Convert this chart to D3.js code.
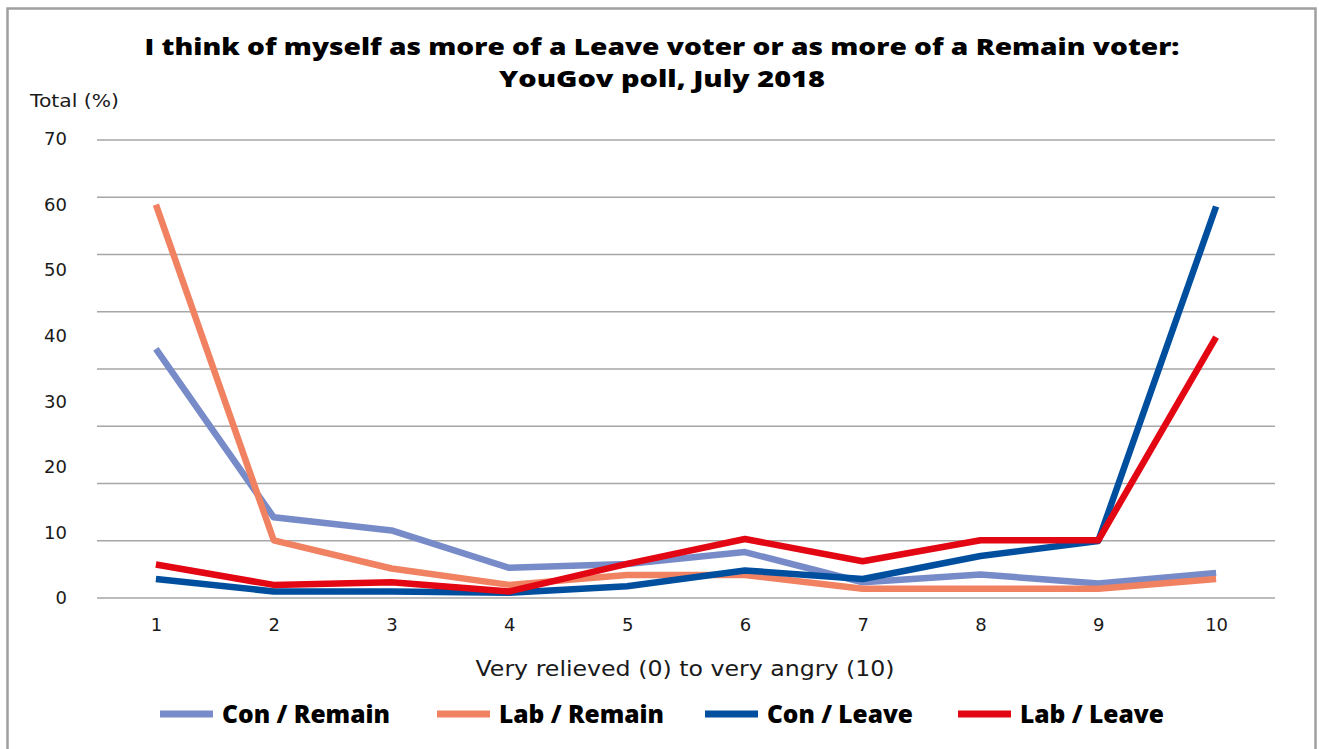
<!DOCTYPE html>
<html>
<head>
<meta charset="utf-8">
<script src="https://cdn.jsdelivr.net/npm/d3@7"></script>
<style>
  html, body { margin: 0; padding: 0; background: #fff; }
  svg { display: block; }
</style>
</head>
<body>
<svg id="chart" width="1319" height="749"></svg>
<script>
// Scale points 1..10 on the relieved/angry axis
const categories = [1, 2, 3, 4, 5, 6, 7, 8, 9, 10];

// Share of each group (%) at each point of the scale
const conRemain = [38, 12.3, 10.3, 4.6, 5.2, 7, 2.4, 3.6, 2.2, 3.8];
const labRemain = [60, 8.8, 4.5, 2, 3.5, 3.5, 1.4, 1.4, 1.4, 2.9];
const conLeave  = [2.9, 1, 1, 0.8, 1.8, 4.2, 2.9, 6.4, 8.7, 59.7];
const labLeave  = [5.1, 2, 2.4, 1, 5.2, 9, 5.6, 8.8, 8.8, 39.8];

const seriesNames  = ["Con / Remain", "Lab / Remain", "Con / Leave", "Lab / Leave"];
const seriesValues = [conRemain, labRemain, conLeave, labLeave];
const seriesColors = ["#778bc8", "#f08262", "#004f9f", "#e30613"];

const yTicks = [0, 10, 20, 30, 40, 50, 60, 70];
const gridSteps = 8;

const titleLines = [
  "I think of myself as more of a Leave voter or as more of a Remain voter:",
  "YouGov poll, July 2018"
];
const yAxisTitle = "Total (%)";
const xAxisTitle = "Very relieved (0) to very angry (10)";

const svg = d3.select("#chart");
const W = 1319, H = 749;
const plot = { left: 97, right: 1275, top: 140, bottom: 598 };

// outer frame
svg.append("rect")
  .attr("x", 7.5).attr("y", 8.5)
  .attr("width", 1308).attr("height", H + 20)
  .attr("fill", "#fff").attr("stroke", "#a0a0a0").attr("stroke-width", 2.5);

const x = d3.scalePoint()
  .domain(categories)
  .range([plot.left, plot.right])
  .padding(0.5);

const y = d3.scaleLinear().domain([0, 70]).range([plot.bottom, 139]);
const grid = d3.scaleLinear().domain([0, gridSteps]).range([plot.bottom, plot.top]);

// horizontal gridlines
svg.append("g")
  .selectAll("line")
  .data(d3.range(0, gridSteps + 1))
  .join("line")
  .attr("x1", plot.left).attr("x2", plot.right)
  .attr("y1", d => grid(d)).attr("y2", d => grid(d))
  .attr("stroke", "#a6a6a6").attr("stroke-width", 1.5);

const labelFont = "'DejaVu Sans', 'Open Sans', sans-serif";
const heavyFont = "'Open Sans', Roboto, sans-serif";

// y tick labels
const yAxis = d3.axisLeft(y).tickValues(yTicks).tickSize(0).tickPadding(0);
const gy = svg.append("g").attr("transform", "translate(67,0)").call(yAxis);
gy.select(".domain").remove();
gy.selectAll("text")
  .attr("font-family", labelFont).attr("font-size", 18).attr("fill", "#1a1a1a");

// x tick labels
const xAxis = d3.axisBottom(x).tickSize(0).tickPadding(0);
const gx = svg.append("g").attr("transform", "translate(0,618)").call(xAxis);
gx.select(".domain").remove();
gx.selectAll("text")
  .attr("font-family", labelFont).attr("font-size", 18).attr("fill", "#1a1a1a");

// series lines
const line = d3.line()
  .x((d, i) => x(categories[i]))
  .y(d => y(d));

svg.append("g")
  .selectAll("path")
  .data(seriesValues)
  .join("path")
  .attr("d", d => line(d))
  .attr("fill", "none")
  .attr("stroke", (d, i) => seriesColors[i])
  .attr("stroke-width", 6.5)
  .attr("stroke-linejoin", "round");

// title
const titleWidths = [1035, 326];
svg.append("g")
  .selectAll("text")
  .data(titleLines)
  .join("text")
  .attr("x", 662).attr("y", (d, i) => 54.5 + i * 32.5)
  .attr("text-anchor", "middle")
  .attr("font-family", heavyFont).attr("font-weight", 800)
  .attr("font-size", 23.5).attr("fill", "#000")
  .attr("textLength", (d, i) => titleWidths[i])
  .attr("lengthAdjust", "spacingAndGlyphs")
  .text(d => d);

svg.append("text")
  .attr("x", 30).attr("y", 107)
  .attr("font-family", labelFont).attr("font-size", 18).attr("fill", "#1a1a1a")
  .attr("textLength", 89).attr("lengthAdjust", "spacingAndGlyphs")
  .text(yAxisTitle);

svg.append("text")
  .attr("x", 685).attr("y", 676)
  .attr("text-anchor", "middle")
  .attr("font-family", labelFont).attr("font-size", 21).attr("fill", "#1a1a1a")
  .attr("textLength", 419).attr("lengthAdjust", "spacingAndGlyphs")
  .text(xAxisTitle);

// legend
const legendX = [160, 437, 705, 958];
const legendTextWidths = [168, 165, 146, 144];
const legend = svg.append("g")
  .selectAll("g")
  .data(seriesNames)
  .join("g")
  .attr("transform", (d, i) => `translate(${legendX[i]},714)`);
legend.append("line")
  .attr("x1", 0).attr("x2", 53).attr("y1", 0).attr("y2", 0)
  .attr("stroke", (d, i) => seriesColors[i]).attr("stroke-width", 7);
legend.append("text")
  .attr("x", 62).attr("y", 9)
  .attr("font-family", heavyFont).attr("font-weight", 800)
  .attr("font-size", 24).attr("fill", "#000")
  .attr("textLength", (d, i) => legendTextWidths[i])
  .attr("lengthAdjust", "spacingAndGlyphs")
  .text(d => d);
</script>
</body>
</html>
